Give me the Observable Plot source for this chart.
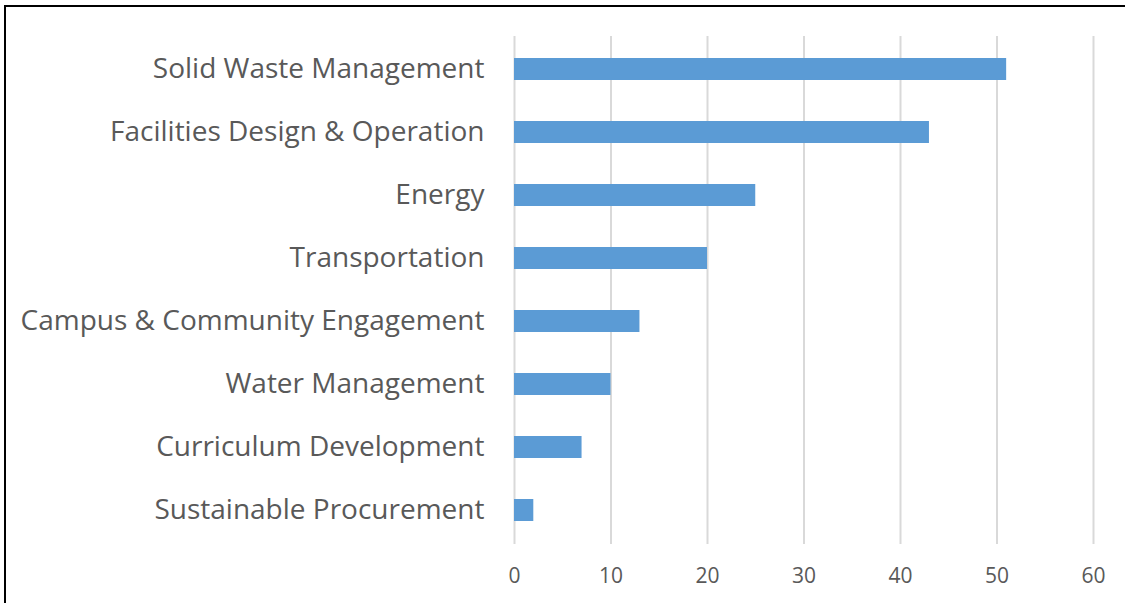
<!DOCTYPE html>
<html><head><meta charset="utf-8">
<script src="https://cdn.jsdelivr.net/npm/d3@7"></script>
<script src="https://cdn.jsdelivr.net/npm/@observablehq/plot@0.6"></script>
<style>
body{margin:0;background:#fff;}
#wrap{position:relative;width:1125px;height:603px;overflow:hidden;}
#border{position:absolute;left:4px;top:5px;width:1200px;height:700px;border:2px solid #000;box-sizing:border-box;pointer-events:none;}
#chart{position:absolute;left:0;top:0;}
</style></head>
<body><div id="wrap"><div id="chart"></div><div id="border"></div></div>
<script>
const categories = ["Solid Waste Management","Facilities Design & Operation","Energy","Transportation","Campus & Community Engagement","Water Management","Curriculum Development","Sustainable Procurement"];
const values = [51,43,25,20,13,10,7,2];
const xTicks = [0,10,20,30,40,50,60];
const data = categories.map((c,i)=>({category:c, value:values[i]}));
const chart = Plot.plot({
  width:1125, height:603,
  marginLeft:514, marginRight:32, marginTop:36, marginBottom:59,
  style:{fontFamily:"'Open Sans', sans-serif", color:"#595959", background:"#fff"},
  x:{domain:[0,60], ticks:xTicks},
  y:{domain:categories, paddingInner:0.65, paddingOuter:0.325},
  marks:[
    Plot.gridX(xTicks,{stroke:"#d9d9d9", strokeOpacity:1, strokeWidth:2}),
    Plot.barX(data,{y:"category", x:"value", fill:"#5B9BD5"}),
    Plot.axisY({tickSize:0, tickPadding:30, fontSize:28, label:null, fill:"#595959"}),
    Plot.axisX(xTicks,{tickSize:0, tickPadding:24, fontSize:21, label:null, fill:"#595959"})
  ]
});
document.getElementById("chart").appendChild(chart);
</script></body></html>
